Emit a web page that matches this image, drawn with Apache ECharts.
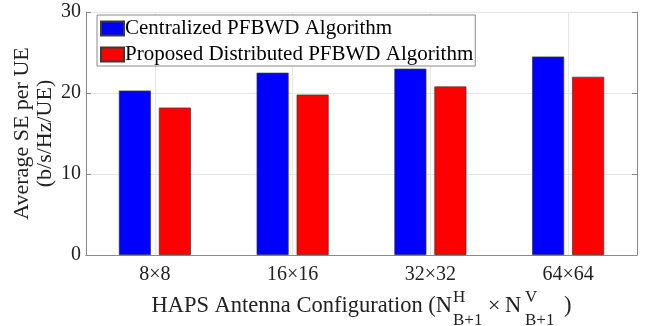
<!doctype html>
<html>
<head>
<meta charset="utf-8">
<title>Average SE per UE</title>
<script src="https://cdn.jsdelivr.net/npm/echarts@6/dist/echarts.min.js"></script>
<style>
  html, body { margin: 0; padding: 0; background: #fff; }
  #chart { width: 648px; height: 326px; }
</style>
</head>
<body>
<div id="chart"></div>
<script>
// data
var configs = ['8×8', '16×16', '32×32', '64×64'];
var centralized = [20.3, 22.5, 23.0, 24.5];
var distributed = [18.2, 19.8, 20.8, 22.0];
var seriesNames = ['Centralized PFBWD Algorithm', 'Proposed Distributed PFBWD Algorithm'];
var yTicks = { min: 0, max: 30, interval: 10 };

var serif = '"Liberation Serif", "Times New Roman", serif';
var boxColor = '#8a8a8a';
var gridColor = '#e6e6e6';
var txt = '#222';

var chart = echarts.init(document.getElementById('chart'));

// x-axis title with stacked super/subscripts, pieces laid out by hand
function label(x, y, s, size) {
  return { type: 'text', x: x, y: y, silent: true,
    style: { text: s, font: size + 'px ' + serif, fill: txt, align: 'left', verticalAlign: 'middle' } };
}
var xTitle = [
  { type: 'text', x: 452, y: 306, silent: true,
    style: { text: 'HAPS Antenna Configuration (N', font: '22.5px ' + serif, fill: txt, align: 'right', verticalAlign: 'middle' } },
  label(453, 298, 'H', 17),
  label(453, 321, 'B+1', 17),
  label(488, 306, '×', 22),
  label(505, 306, 'N', 22.5),
  label(525, 298, 'V', 17),
  label(525, 321, 'B+1', 17),
  label(564, 306, ')', 22.5)
];

var option = {
  animation: false,
  textStyle: { fontFamily: serif },
  grid: { left: 86, right: 11, top: 12, bottom: 71, outerBoundsMode: 'none' },
  legend: {
    orient: 'vertical',
    left: 97,
    top: 15,
    icon: 'rect',
    itemWidth: 23,
    itemHeight: 14,
    itemGap: 5,
    padding: [3, 2, 1, 3],
    backgroundColor: '#fff',
    borderColor: boxColor,
    borderWidth: 1,
    textStyle: { fontFamily: serif, fontSize: 21, color: '#000', padding: [0, 0, 0, -4] },
    data: seriesNames
  },
  xAxis: [{
    type: 'category',
    data: configs,
    axisLine: { lineStyle: { color: boxColor, width: 1 } },
    axisTick: { alignWithLabel: true, inside: true, length: 5, lineStyle: { color: boxColor } },
    axisLabel: { fontFamily: serif, fontSize: 20, color: txt, margin: 10 },
    splitLine: { show: true, alignWithLabel: true, lineStyle: { color: gridColor, width: 1 } }
  }, {
    type: 'category',
    position: 'top',
    data: configs,
    axisLine: { lineStyle: { color: boxColor, width: 1 } },
    axisTick: { alignWithLabel: true, inside: true, length: 5, lineStyle: { color: boxColor } },
    axisLabel: { show: false },
    splitLine: { show: false }
  }],
  yAxis: [{
    type: 'value',
    min: yTicks.min,
    max: yTicks.max,
    interval: yTicks.interval,
    name: 'Average SE per UE\n(b/s/Hz/UE)',
    nameLocation: 'middle',
    nameGap: 29,
    nameMoveOverlap: false,
    nameTextStyle: { fontFamily: serif, fontSize: 22, color: txt, lineHeight: 23 },
    axisLine: { show: true, lineStyle: { color: boxColor, width: 1 } },
    axisTick: { show: true, inside: true, length: 5, lineStyle: { color: boxColor } },
    axisLabel: { fontFamily: serif, fontSize: 20, color: txt, margin: 5 },
    splitLine: { lineStyle: { color: gridColor, width: 1 } }
  }, {
    type: 'value',
    position: 'right',
    min: yTicks.min,
    max: yTicks.max,
    interval: yTicks.interval,
    axisLine: { show: true, lineStyle: { color: boxColor, width: 1 } },
    axisTick: { show: true, inside: true, length: 5, lineStyle: { color: boxColor } },
    axisLabel: { show: false },
    splitLine: { show: false }
  }],
  series: [{
    name: seriesNames[0],
    type: 'bar',
    data: centralized,
    barWidth: 32,
    barGap: '25%',
    itemStyle: { color: '#0000ff', borderColor: '#3a3a3a', borderWidth: 0.7 }
  }, {
    name: seriesNames[1],
    type: 'bar',
    data: distributed,
    barWidth: 32,
    itemStyle: { color: '#ff0000', borderColor: '#3a3a3a', borderWidth: 0.7 }
  }],
  graphic: xTitle
};

chart.setOption(option);
</script>
</body>
</html>
